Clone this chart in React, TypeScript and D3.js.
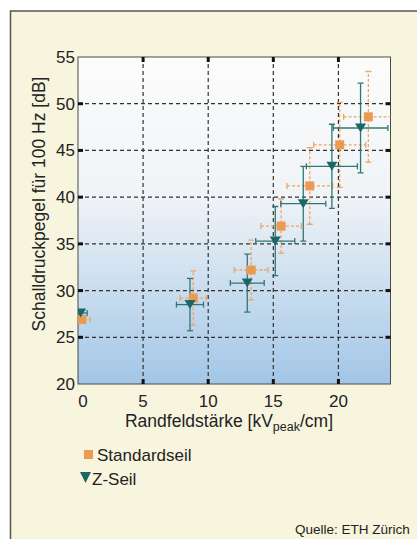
import * as d3 from "d3";

const xTicks = [0, 5, 10, 15, 20];
const yTicks = [20, 25, 30, 35, 40, 45, 50, 55];

// Standardseil (orange squares)
const stdX = [0.3, 8.85, 13.3, 15.6, 17.8, 20.1, 22.3];
const stdY = [26.9, 29.2, 32.2, 36.9, 41.2, 45.6, 48.6];
const stdXErr = [0.65, 1.0, 1.3, 1.55, 1.75, 2.0, 1.9];
const stdYErr = [0.4, 2.9, 3.2, 2.9, 4.1, 4.55, 4.85];

// Z-Seil (teal triangles)
const zX = [0.2, 8.6, 13.0, 15.15, 17.3, 19.5, 21.7];
const zY = [27.6, 28.5, 30.8, 35.3, 39.3, 43.3, 47.4];
const zXErr = [0.5, 1.04, 1.3, 1.5, 1.73, 1.96, 2.1];
const zYErr = [0.3, 2.8, 3.1, 3.7, 4.0, 4.5, 4.8];

const W = 417;
const H = 539;
const plot = { left: 78, right: 390.5, top: 57, bottom: 384 };

const ORANGE = "#ec9a52";
const ORANGE_BAR = "#efa564";
const TEAL = "#1c6764";
const TEAL_BAR = "#2f7775";
const FONT = "'Liberation Sans', Arial, sans-serif";

export default function App() {
  const x = d3.scaleLinear().domain([0, 24]).range([plot.left, plot.right]);
  const y = d3.scaleLinear().domain([20, 55]).range([plot.bottom, plot.top]);

  const cap = 3;

  const errBars = (xs: number[], ys: number[], xe: number[], ye: number[], color: string, dash?: string) =>
    xs.map((xv, i) => {
      const cx = x(xv);
      const cy = y(ys[i]);
      const x0 = x(xv - xe[i]);
      const x1 = x(xv + xe[i]);
      const y0 = y(ys[i] - ye[i]);
      const y1 = y(ys[i] + ye[i]);
      return (
        <g key={i} stroke={color} strokeWidth={1.3} strokeDasharray={dash} fill="none">
          <line x1={x0} x2={x1} y1={cy} y2={cy} />
          <line x1={cx} x2={cx} y1={y0} y2={y1} />
          <line x1={x0} x2={x0} y1={cy - cap} y2={cy + cap} strokeDasharray="none" />
          <line x1={x1} x2={x1} y1={cy - cap} y2={cy + cap} strokeDasharray="none" />
          <line x1={cx - cap} x2={cx + cap} y1={y0} y2={y0} strokeDasharray="none" />
          <line x1={cx - cap} x2={cx + cap} y1={y1} y2={y1} strokeDasharray="none" />
        </g>
      );
    });

  const tri = (cx: number, cy: number, w = 11, h = 9) =>
    `M${cx - w / 2},${cy - h / 2}L${cx + w / 2},${cy - h / 2}L${cx},${cy + h / 2}Z`;

  const innerX = xTicks.filter((t) => t > 0);
  const innerY = yTicks.filter((t) => t > 20 && t < 55);

  return (
    <svg width={W} height={H} style={{ position: "absolute", left: 0, top: 0, background: "#ffffff" }}>
      <defs>
        <linearGradient id="bg" x1="0" y1="0" x2="0" y2="1">
          <stop offset="0%" stopColor="#fcfcfb" />
          <stop offset="42%" stopColor="#f0f4f7" />
          <stop offset="70%" stopColor="#cbdeef" />
          <stop offset="100%" stopColor="#a2c6e7" />
        </linearGradient>
        <clipPath id="clip">
          <rect x={plot.left} y={plot.top} width={plot.right - plot.left} height={plot.bottom - plot.top} />
        </clipPath>
      </defs>

      <rect x={10.5} y={11} width={420} height={540} fill="#f8f5df" stroke="#5b5350" strokeWidth={1.5} />

      <rect
        x={plot.left}
        y={plot.top}
        width={plot.right - plot.left}
        height={plot.bottom - plot.top}
        fill="url(#bg)"
      />

      {/* grid */}
      <g stroke="#333" strokeWidth={1.2} strokeDasharray="4,3">
        {innerX.map((t) => (
          <line key={"gx" + t} x1={x(t)} x2={x(t)} y1={plot.top} y2={plot.bottom} />
        ))}
        {innerY.map((t) => (
          <line key={"gy" + t} x1={plot.left} x2={plot.right} y1={y(t)} y2={y(t)} />
        ))}
      </g>

      <rect
        x={plot.left}
        y={plot.top}
        width={plot.right - plot.left}
        height={plot.bottom - plot.top}
        fill="none"
        stroke="#4a4a4a"
        strokeWidth={1}
      />

      {/* tick marks */}
      <g fill="#111">
        {innerX.map((t) => (
          <g key={"tx" + t}>
            <rect x={x(t) - 1.5} y={plot.bottom - 5} width={3} height={5} />
            <rect x={x(t) - 1.5} y={plot.top} width={3} height={5} />
          </g>
        ))}
        {innerY.map((t) => (
          <g key={"ty" + t}>
            <rect x={plot.left} y={y(t) - 1.5} width={5} height={3} />
            <rect x={plot.right - 5} y={y(t) - 1.5} width={5} height={3} />
          </g>
        ))}
      </g>

      <g clipPath="url(#clip)">
        {errBars(stdX, stdY, stdXErr, stdYErr, ORANGE_BAR, "3,2")}
        {errBars(zX, zY, zXErr, zYErr, TEAL_BAR)}
        {stdX.map((xv, i) => (
          <rect key={"s" + i} x={x(xv) - 4.5} y={y(stdY[i]) - 4.5} width={9} height={9} fill={ORANGE} />
        ))}
        {zX.map((xv, i) => (
          <path key={"z" + i} d={tri(x(xv), y(zY[i]))} fill={TEAL} />
        ))}
      </g>

      {/* tick labels */}
      <g fontFamily={FONT} fontSize={17} fill="#222">
        {yTicks.map((t) => (
          <text key={"ly" + t} x={plot.left - 3} y={y(t) + 6} textAnchor="end">
            {t}
          </text>
        ))}
        {xTicks.map((t) => (
          <text key={"lx" + t} x={x(t) + (t === 0 ? 5 : 0)} y={407} textAnchor="middle">
            {t}
          </text>
        ))}
      </g>

      <text
        fontFamily={FONT}
        fontSize={17.5}
        fill="#222"
        textAnchor="middle"
        transform="translate(45,204) rotate(-90)"
      >
        Schalldruckpegel für 100 Hz [dB]
      </text>

      <text fontFamily={FONT} fontSize={17.5} fill="#222" x={229} y={427} textAnchor="middle">
        Randfeldstärke [kV
        <tspan fontSize={12.5} dy={4}>peak</tspan>
        <tspan dy={-4}>/cm]</tspan>
      </text>

      {/* legend */}
      <rect x={84} y={450} width={9} height={9} fill={ORANGE} />
      <text fontFamily={FONT} fontSize={17} fill="#222" x={97} y={461}>
        Standardseil
      </text>
      <path d={tri(85.5, 477.5, 11, 11)} fill={TEAL} />
      <text fontFamily={FONT} fontSize={17} fill="#222" x={92} y={485}>
        Z-Seil
      </text>

      <text fontFamily={FONT} fontSize={13.5} fill="#222" x={295} y={534}>
        Quelle: ETH Zürich
      </text>
    </svg>
  );
}
